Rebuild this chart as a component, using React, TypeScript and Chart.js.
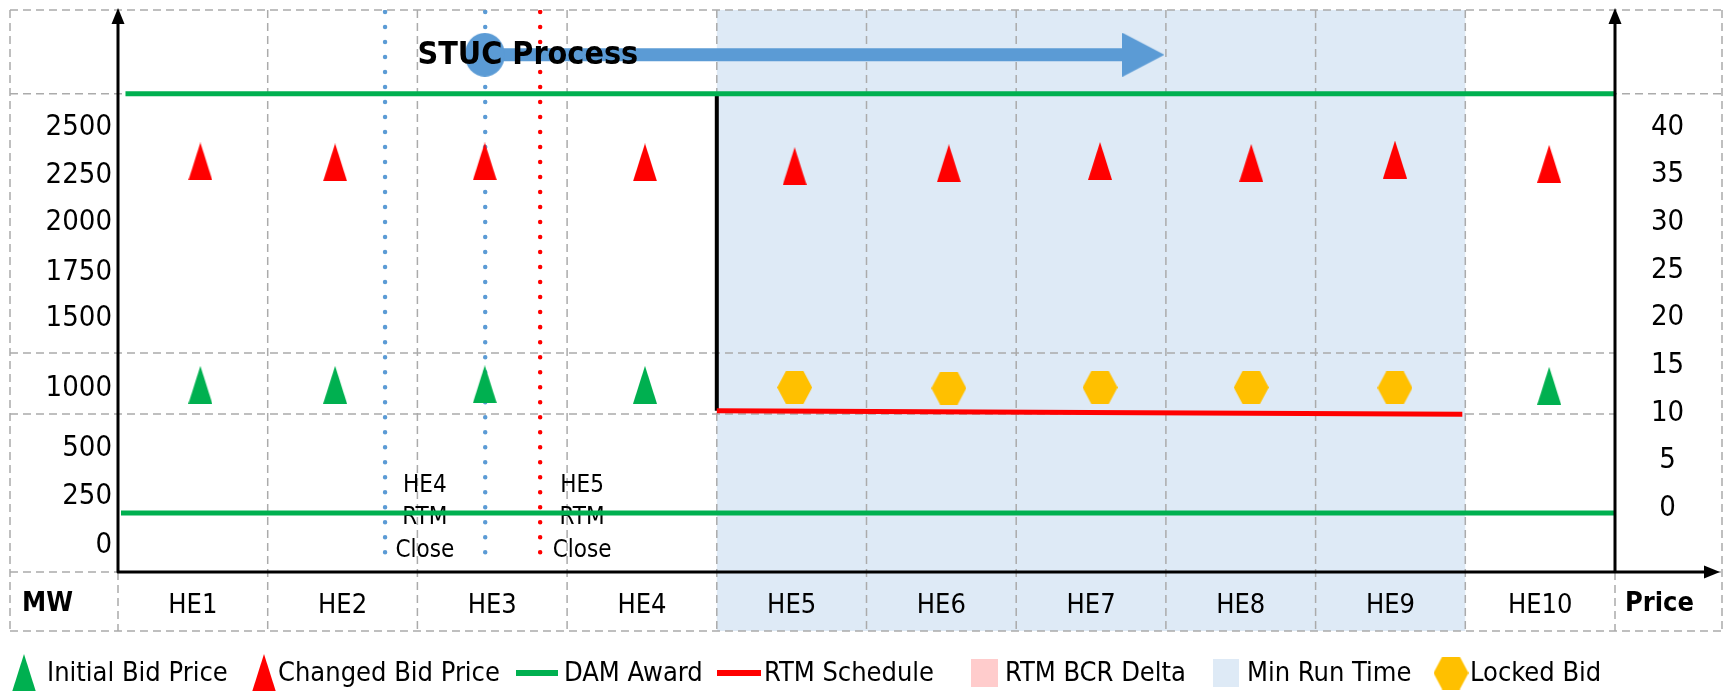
import React, { useEffect, useRef } from 'react';
import { Chart, registerables } from 'chart.js';

Chart.register(...registerables);

const W = 1727;
const H = 691;

// ---------------- data ----------------
const categories = ['HE1', 'HE2', 'HE3', 'HE4', 'HE5', 'HE6', 'HE7', 'HE8', 'HE9', 'HE10'];
const markerX = [0.55, 1.45, 2.45, 3.52, 4.52, 5.55, 6.56, 7.57, 8.53, 9.56];
const initialBidPrice: (number | null)[] = [12.65, 12.65, 12.7, 12.65, null, null, null, null, null, 12.55];
const changedBidPrice = [36.1, 36.0, 36.1, 36.0, 35.6, 35.9, 36.15, 35.95, 36.3, 35.85];
const lockedBid: (number | null)[] = [null, null, null, null, 12.37, 12.3, 12.37, 12.37, 12.33, null];
const damAwardUpperX = [0.05, 10];
const damAwardUpper = [43.2, 43.2];
const damAwardLowerX = [0.02, 10];
const damAwardLower = [-0.8, -0.8];
const rtmScheduleX = [4, 8.98];
const rtmSchedule = [9.92, 9.57];
const commitX = [4, 4];
const commitY = [43.2, 9.92];
const stucX = [2.45, 6.85];
const stucY = [47.3, 47.3];
const stucLabel = 'STUC Process';
const stucLabelX = 2.0;
const closeLineX = [1.784, 2.453, 2.82];
const closeLineTop = [51.8, 51.8, 51.8];
const closeLineBottom = [-5.5, -5.4, -6.0];
const closeLabelX = [2.05, 3.1];
const closeLabels = [['HE4', 'RTM', 'Close'], ['HE5', 'RTM', 'Close']];
const closeLabelY = [2.07, -1.29, -4.76];
const priceTicks = [0, 5, 10, 15, 20, 25, 30, 35, 40];
const mwTickLabels = ['2500', '2250', '2000', '1750', '1500', '1000', '500', '250', '0'];
const mwTickAt = [40, 34.9, 30, 24.8, 19.9, 12.6, 6.3, 1.2, -3.9];
const gridLevels = [43.2, 16.0, 9.6];
const minRunTime = ['HE5', 'HE9'];
const legendLabels = ['Initial Bid Price', 'Changed Bid Price', 'DAM Award', 'RTM Schedule', 'RTM BCR Delta', 'Min Run Time', 'Locked Bid'];

// ---------------- style ----------------
const FONT = "'DejaVu Sans Condensed', 'DejaVu Sans', sans-serif";
const GREEN = '#00B050';
const RED = '#FF0000';
const BLUE = '#5B9BD5';
const ORANGE = '#FFC000';
const PINK = '#FFCCCC';
const BAND = '#DEEAF6';
const GRID = '#ABABAB';
const Y_MIN = -7;
const Y_MAX = 52;
const BORDER_L = 10;
const BORDER_R = 1722;
const BORDER_B = 631;

function makeCanvas(w: number, h: number, draw: (g: CanvasRenderingContext2D) => void) {
  const c = document.createElement('canvas');
  c.width = w;
  c.height = h;
  draw(c.getContext('2d') as CanvasRenderingContext2D);
  return c;
}

function buildImages() {
  const tri = (color: string) =>
    makeCanvas(24, 38, (g) => {
      g.fillStyle = color;
      g.beginPath();
      g.moveTo(12, 0);
      g.lineTo(24, 38);
      g.lineTo(0, 38);
      g.closePath();
      g.fill();
    });
  const hex = makeCanvas(35, 33, (g) => {
    g.fillStyle = ORANGE;
    g.beginPath();
    g.moveTo(0, 16.5);
    g.lineTo(8.75, 0);
    g.lineTo(26.25, 0);
    g.lineTo(35, 16.5);
    g.lineTo(26.25, 33);
    g.lineTo(8.75, 33);
    g.closePath();
    g.fill();
  });
  const head = makeCanvas(42, 44, (g) => {
    g.fillStyle = BLUE;
    g.beginPath();
    g.moveTo(0, 0);
    g.lineTo(42, 22);
    g.lineTo(0, 44);
    g.closePath();
    g.fill();
  });
  const dot = makeCanvas(40, 44, (g) => {
    g.fillStyle = BLUE;
    g.beginPath();
    g.ellipse(20, 22, 20, 22, 0, 0, Math.PI * 2);
    g.fill();
  });
  return { greenTri: tri(GREEN), redTri: tri(RED), hex, head, dot };
}

const pts = (xs: number[], ys: (number | null)[]) =>
  xs.map((x, i) => ({ x, y: ys[i] })).filter((p) => p.y !== null) as { x: number; y: number }[];

export default function App() {
  const ref = useRef<HTMLCanvasElement>(null);

  useEffect(() => {
    const img = buildImages();

    const tablePlugin = {
      id: 'tableGrid',
      beforeDraw(chart: any) {
        const { ctx, chartArea: ca, scales } = chart;
        const x = scales.x;
        const y = scales.y;
        ctx.save();
        // min run time band
        const i0 = categories.indexOf(minRunTime[0]);
        const i1 = categories.indexOf(minRunTime[1]) + 1;
        const bx0 = x.getPixelForValue(i0);
        const bx1 = x.getPixelForValue(i1);
        ctx.fillStyle = BAND;
        ctx.fillRect(bx0, ca.top, bx1 - bx0, BORDER_B - ca.top);
        // dashed table grid
        ctx.strokeStyle = GRID;
        ctx.lineWidth = 1.5;
        ctx.setLineDash([8, 5]);
        const hline = (yy: number, x0: number, x1: number) => {
          ctx.beginPath();
          ctx.moveTo(x0, yy);
          ctx.lineTo(x1, yy);
          ctx.stroke();
        };
        const vline = (xx: number, y0: number, y1: number) => {
          ctx.beginPath();
          ctx.moveTo(xx, y0);
          ctx.lineTo(xx, y1);
          ctx.stroke();
        };
        hline(ca.top, BORDER_L, BORDER_R);
        hline(ca.bottom, BORDER_L, BORDER_R);
        hline(BORDER_B, BORDER_L, BORDER_R);
        hline(y.getPixelForValue(gridLevels[0]), BORDER_L, BORDER_R);
        gridLevels.slice(1).forEach((v) => hline(y.getPixelForValue(v), BORDER_L, ca.right));
        vline(BORDER_L, ca.top, BORDER_B);
        vline(BORDER_R, ca.top, BORDER_B);
        for (let k = 0; k <= categories.length; k++) {
          const px = x.getPixelForValue(k);
          if (k === 0 || k === categories.length) vline(px, ca.bottom, BORDER_B);
          else vline(px, ca.top, BORDER_B);
        }
        ctx.restore();
      },
      beforeDatasetsDraw(chart: any) {
        const { ctx, scales } = chart;
        ctx.save();
        ctx.fillStyle = '#000';
        ctx.font = `24px ${FONT}`;
        ctx.textAlign = 'center';
        ctx.textBaseline = 'middle';
        closeLabels.forEach((lines, i) => {
          const px = scales.x.getPixelForValue(closeLabelX[i]);
          lines.forEach((t, j) => ctx.fillText(t, px, scales.y.getPixelForValue(closeLabelY[j])));
        });
        ctx.restore();
      },
      afterDatasetsDraw(chart: any) {
        const { ctx, chartArea: ca, scales } = chart;
        ctx.save();
        // axes
        ctx.strokeStyle = '#000';
        ctx.fillStyle = '#000';
        ctx.lineWidth = 3;
        ctx.lineJoin = 'round';
        ctx.setLineDash([]);
        ctx.beginPath();
        ctx.moveTo(ca.left, ca.top + 8);
        ctx.lineTo(ca.left, ca.bottom);
        ctx.lineTo(BORDER_R - 14, ca.bottom);
        ctx.moveTo(ca.right, ca.top + 8);
        ctx.lineTo(ca.right, ca.bottom);
        ctx.stroke();
        const up = (xx: number) => {
          ctx.beginPath();
          ctx.moveTo(xx, ca.top - 2);
          ctx.lineTo(xx + 6.5, ca.top + 14);
          ctx.lineTo(xx - 6.5, ca.top + 14);
          ctx.closePath();
          ctx.fill();
        };
        up(ca.left);
        up(ca.right);
        ctx.beginPath();
        ctx.moveTo(BORDER_R - 2, ca.bottom);
        ctx.lineTo(BORDER_R - 18, ca.bottom - 6.5);
        ctx.lineTo(BORDER_R - 18, ca.bottom + 6.5);
        ctx.closePath();
        ctx.fill();
        // STUC label
        ctx.font = `bold 32px ${FONT}`;
        ctx.textAlign = 'left';
        ctx.textBaseline = 'middle';
        ctx.fillText(stucLabel, scales.x.getPixelForValue(stucLabelX), scales.y.getPixelForValue(stucY[0]) + 1);
        ctx.restore();
      },
      afterDraw(chart: any) {
        const { ctx, chartArea: ca } = chart;
        ctx.save();
        ctx.fillStyle = '#000';
        ctx.textBaseline = 'middle';
        ctx.textAlign = 'left';
        ctx.font = `bold 27px ${FONT}`;
        const rowY = (ca.bottom + BORDER_B) / 2 + 2;
        ctx.fillText('MW', 22, rowY);
        ctx.fillText('Price', ca.right + 10, rowY);
        // legend
        const LY = 673;
        const layout: any[] = [
          { kind: 'img', im: img.greenTri, cx: 24, tx: 47 },
          { kind: 'img', im: img.redTri, cx: 264, tx: 278 },
          { kind: 'line', color: GREEN, x0: 516, x1: 558, tx: 564 },
          { kind: 'line', color: RED, x0: 717, x1: 761, tx: 764 },
          { kind: 'rect', color: PINK, x0: 971, x1: 998, tx: 1005 },
          { kind: 'rect', color: BAND, x0: 1213, x1: 1239, tx: 1247 },
          { kind: 'img', im: img.hex, cx: 1451, tx: 1470 },
        ];
        ctx.font = `27px ${FONT}`;
        legendLabels.forEach((label, i) => {
          const it = layout[i];
          if (it.kind === 'img') {
            ctx.drawImage(it.im, it.cx - it.im.width / 2, LY - it.im.height / 2);
          } else if (it.kind === 'line') {
            ctx.strokeStyle = it.color;
            ctx.lineWidth = 6;
            ctx.beginPath();
            ctx.moveTo(it.x0, LY);
            ctx.lineTo(it.x1, LY);
            ctx.stroke();
          } else {
            ctx.fillStyle = it.color;
            ctx.fillRect(it.x0, LY - 14, it.x1 - it.x0, 28);
          }
          ctx.fillStyle = '#000';
          ctx.fillText(label, it.tx, LY + 1);
        });
        ctx.restore();
      },
    };

    const markerBase = { showLine: false, pointRadius: 12, pointHoverRadius: 12 };
    const datasets: any[] = [
      { ...markerBase, label: legendLabels[0], data: pts(markerX, initialBidPrice), pointStyle: img.greenTri },
      { ...markerBase, label: legendLabels[1], data: pts(markerX, changedBidPrice), pointStyle: img.redTri },
      { ...markerBase, label: legendLabels[6], data: pts(markerX, lockedBid), pointStyle: img.hex },
      {
        label: stucLabel,
        data: pts(stucX, stucY),
        showLine: true,
        borderColor: BLUE,
        borderWidth: 13,
        pointStyle: [img.dot, img.head],
        pointRadius: 12,
      },
      {
        label: legendLabels[2],
        data: [...pts(damAwardUpperX, damAwardUpper), { x: 5, y: null }, ...pts(damAwardLowerX, damAwardLower)],
        showLine: true,
        spanGaps: false,
        borderColor: GREEN,
        borderWidth: 5,
        pointRadius: 0,
      },
      {
        label: legendLabels[3],
        data: pts(rtmScheduleX, rtmSchedule),
        showLine: true,
        borderColor: RED,
        borderWidth: 5,
        pointRadius: 0,
      },
      {
        label: 'Commitment',
        data: pts(commitX, commitY),
        showLine: true,
        borderColor: '#000',
        borderWidth: 4,
        pointRadius: 0,
      },
      ...closeLineX.map((xv, i) => ({
        label: i === 2 ? 'HE5 RTM Close' : i === 0 ? 'HE4 RTM Close' : 'STUC Start',
        data: [
          { x: xv, y: closeLineTop[i] },
          { x: xv, y: closeLineBottom[i] },
        ],
        showLine: true,
        borderColor: i === 2 ? RED : BLUE,
        borderWidth: 4.5,
        borderDash: [0.01, 15],
        borderCapStyle: 'round',
        pointRadius: 0,
      })),
      { label: legendLabels[4], data: [], backgroundColor: PINK },
      { label: legendLabels[5], data: [], backgroundColor: BAND },
    ];

    const tickFont = { family: FONT, size: 29 };
    const chart = new Chart(ref.current as HTMLCanvasElement, {
      type: 'scatter',
      data: { datasets },
      options: {
        responsive: false,
        animation: false,
        devicePixelRatio: 1,
        events: [],
        layout: { autoPadding: false, padding: { top: 10, left: 0, right: 0, bottom: 0 } },
        plugins: { legend: { display: false }, tooltip: { enabled: false } },
        scales: {
          x: {
            type: 'linear',
            position: 'bottom',
            min: 0,
            max: categories.length,
            grid: { display: false, drawTicks: false },
            border: { display: false },
            afterBuildTicks: (s: any) => {
              s.ticks = categories.map((_, i) => ({ value: i + 0.5 }));
            },
            afterFit: (s: any) => {
              s.height = 119;
              s.paddingLeft = 0;
              s.paddingRight = 0;
            },
            ticks: {
              callback: (_v: any, i: number) => categories[i],
              autoSkip: false,
              maxRotation: 0,
              minRotation: 0,
              padding: 18,
              color: '#000',
              font: { family: FONT, size: 27 },
            },
          },
          mw: {
            type: 'linear',
            position: 'left',
            min: Y_MIN,
            max: Y_MAX,
            grid: { display: false, drawTicks: false },
            border: { display: false },
            afterBuildTicks: (s: any) => {
              s.ticks = mwTickAt.map((v) => ({ value: v }));
            },
            afterFit: (s: any) => {
              s.width = 118;
              s.paddingTop = 0;
              s.paddingBottom = 0;
            },
            ticks: {
              callback: (_v: any, i: number) => mwTickLabels[i],
              autoSkip: false,
              padding: 6,
              labelOffset: 3,
              color: '#000',
              font: tickFont,
            },
          },
          y: {
            type: 'linear',
            position: 'right',
            min: Y_MIN,
            max: Y_MAX,
            grid: { display: false, drawTicks: false },
            border: { display: false },
            afterBuildTicks: (s: any) => {
              s.ticks = priceTicks.map((v) => ({ value: v }));
            },
            afterFit: (s: any) => {
              s.width = W - 1615;
              s.paddingTop = 0;
              s.paddingBottom = 0;
            },
            ticks: {
              callback: (v: any) => String(v),
              autoSkip: false,
              crossAlign: 'center',
              padding: 36,
              labelOffset: 3,
              color: '#000',
              font: tickFont,
            },
          },
        },
      } as any,
      plugins: [tablePlugin],
    });
    return () => chart.destroy();
  }, []);

  return (
    <div style={{ position: 'fixed', left: 0, top: 0, width: W, height: H, background: '#fff' }}>
      <canvas ref={ref} width={W} height={H} style={{ display: 'block', width: W, height: H }} />
    </div>
  );
}
